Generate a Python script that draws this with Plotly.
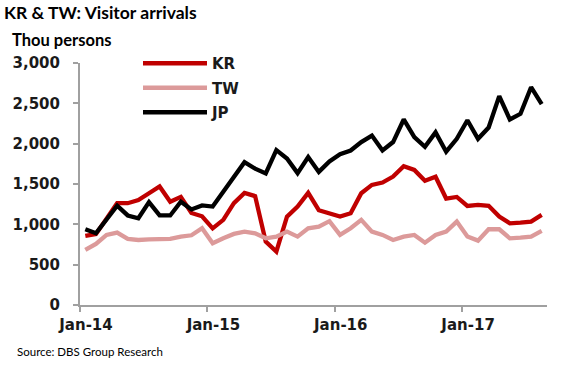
import plotly.graph_objects as go

months = [f"{m}-{y}" for y in ("14", "15", "16", "17") for m in
          ("Jan", "Feb", "Mar", "Apr", "May", "Jun", "Jul", "Aug", "Sep", "Oct", "Nov", "Dec")][:44]

kr = [856, 880, 1070, 1262, 1262, 1300, 1385, 1470, 1280, 1340, 1140, 1100,
      950, 1055, 1262, 1390, 1350, 785, 662, 1096, 1220, 1390, 1175, 1138,
      1096, 1138, 1386, 1489, 1518, 1592, 1720, 1675, 1540, 1590, 1320, 1340,
      1228, 1240, 1230, 1096, 1013, 1020, 1034, 1117]
tw = [682, 757, 869, 897, 819, 806, 814, 819, 819, 848, 864, 951,
      765, 827, 881, 910, 889, 827, 848, 910, 848, 951, 972, 1040,
      869, 951, 1055, 910, 869, 806, 848, 869, 773, 869, 910, 1034,
      848, 798, 939, 939, 827, 835, 848, 918]
jp = [940, 890, 1060, 1230, 1110, 1075, 1275, 1110, 1110, 1280, 1185, 1235,
      1220, 1400, 1570, 1770, 1690, 1630, 1920, 1815, 1635, 1835, 1650, 1780,
      1870, 1915, 2020, 2100, 1915, 2020, 2300, 2080, 1960, 2140, 1900, 2060,
      2290, 2060, 2200, 2590, 2300, 2370, 2700, 2490]

tick_labels = ["Jan-14", "Jan-15", "Jan-16", "Jan-17"]
y_ticks = [0, 500, 1000, 1500, 2000, 2500, 3000]

x = list(range(len(months)))

series = [("KR", kr, "#c00000"), ("TW", tw, "#dc9a9a"), ("JP", jp, "#000000")]

fig = go.Figure()
for name, vals, col in series:
    fig.add_trace(go.Scatter(
        x=x, y=vals, name=name, mode="lines", legendgroup=name,
        line=dict(color=col, width=4.3),
        customdata=months, hovertemplate="%{customdata}: %{y}<extra>" + name + "</extra>",
    ))

L, R, T, B = 80, 24, 63, 61
W, H = 571, 366
pw, ph = W - L - R, H - T - B

def px_x(px):
    return (px - L) / pw

def px_y(py):
    return (H - B - py) / ph

axis_col = "#a0a0a0"
tickfont = dict(family="DejaVu Sans", size=15, color="#1a1a1a", weight="bold")

fig.update_layout(
    width=W, height=H,
    margin=dict(l=L, r=R, t=T, b=B),
    paper_bgcolor="white", plot_bgcolor="white",
    showlegend=True,
    legend=dict(
        x=px_x(138), y=px_y(47), xanchor="left", yanchor="top",
        bgcolor="rgba(0,0,0,0)", itemwidth=64, tracegroupgap=2,
        font=dict(family="DejaVu Sans", size=15, color="#1a1a1a", weight="bold"),
    ),
    xaxis=dict(
        range=[-0.5, len(months) - 0.5],
        tickvals=[-0.5, 11.5, 23.5, 35.5], ticktext=tick_labels,
        ticklabelshift=6, ticklabelstandoff=0,
        ticks="outside", ticklen=5, tickwidth=1.5, tickcolor=axis_col,
        showline=True, linecolor=axis_col, linewidth=2,
        showgrid=False, zeroline=False, tickfont=tickfont,
    ),
    yaxis=dict(
        range=[0, 3000], tickvals=y_ticks, tickformat=",",
        ticks="outside", ticklen=5, tickwidth=1.5, tickcolor=axis_col,
        ticklabelstandoff=10,
        showline=True, linecolor=axis_col, linewidth=2,
        showgrid=False, zeroline=False, tickfont=tickfont,
    ),
    title=dict(
        text="<b>KR & TW: Visitor arrivals</b>",
        x=4 / W, xanchor="left", xref="container",
        y=1 - 13 / H, yanchor="middle", yref="container",
        font=dict(family="Lato", size=17.5, color="#000000"),
    ),
    annotations=[
        dict(text="<b>Thou persons</b>", x=px_x(10), y=px_y(40), xref="paper", yref="paper",
             xanchor="left", yanchor="middle", showarrow=False,
             font=dict(family="Lato", size=16.5, color="#000000")),
        dict(text="Source: DBS Group Research", x=px_x(15), y=px_y(351), xref="paper", yref="paper",
             xanchor="left", yanchor="middle", showarrow=False,
             font=dict(family="Lato", size=11.5, color="#000000")),
    ],
)

fig.write_html("out.html", config={"displayModeBar": False},
               post_script="document.body.style.margin='0px';document.body.style.padding='0px';")
